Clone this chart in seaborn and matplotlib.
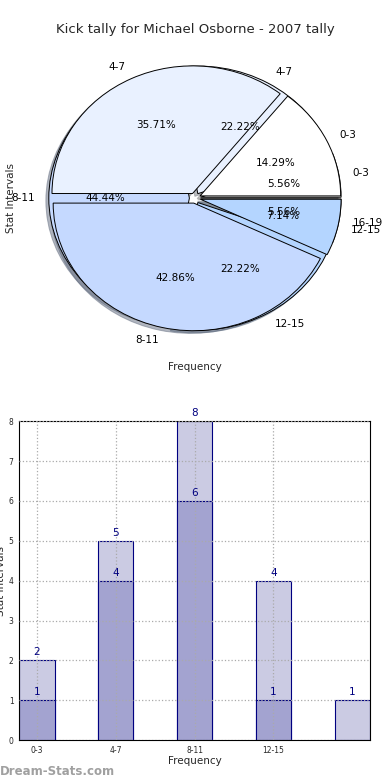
import numpy as np
import pandas as pd
import matplotlib
matplotlib.use('Agg')
import matplotlib.pyplot as plt
import seaborn as sns

sns.set_theme(style="white")
plt.rcParams['font.family'] = ['DejaVu Sans']

# --- data ---
title = 'Kick tally for Michael Osborne - 2007 tally'
pie_a_labels = ['0-3', '4-7', '8-11', '12-15', '16-19']
pie_a_values = [1, 4, 8, 4, 1]
pie_b_labels = ['0-3', '4-7', '8-11', '12-15']
pie_b_values = [2, 5, 6, 1]
pie_colors = ['#ffffff', '#e9f1ff', '#c5d9ff', '#b4d5ff', '#ffffff']

bar_cats = ['0-3', '4-7', '8-11', '12-15', '16-19']
bar_light = [2, 5, 8, 4, 1]
bar_dark = [1, 4, 6, 1, np.nan]
tick_labels = ['0-3', '4-7', '8-11', '12-15']

fig = plt.figure(figsize=(3.9, 7.8), dpi=100)
fig.suptitle(title, y=0.97, fontsize=9.5)

# -------------------------------------------------------------------------------------------
# --- pie part ---
ax1 = fig.add_axes([0.1035, 0.566, 0.793, 0.36])
shadow = {'ox': -0.015, 'oy': -0.015, 'shade': 0.5}
ax1.pie(pie_a_values, labels=pie_a_labels, colors=pie_colors, explode=[0.04] * 5,
        autopct='%.2f%%', pctdistance=0.6, labeldistance=1.1, shadow=shadow,
        wedgeprops={'edgecolor': 'black', 'linewidth': 0.7},
        textprops={'fontsize': 7.5, 'color': 'black'})
ax1.pie(pie_b_values, labels=pie_b_labels, colors=pie_colors[:4], explode=[0.04] * 4,
        autopct='%.2f%%', pctdistance=0.6, labeldistance=1.1, shadow=shadow,
        wedgeprops={'edgecolor': 'black', 'linewidth': 0.7},
        textprops={'fontsize': 7.5, 'color': 'black'})
ax1.set_aspect('auto')
ax1.set_xlim(-1.1, 1.1)
ax1.set_ylim(-1.1, 1.1)
ax1.set_axis_off()
fig.text(0.5, 0.525, 'Frequency', ha='center', fontsize=7.5)
fig.text(0.016, 0.746, 'Stat Intervals', va='center', rotation=90, fontsize=7.5)

# -------------------------------------------------------------------------------------------
# --- bar part ---
ax2 = fig.add_axes([0.049, 0.051, 0.9, 0.409])
df = pd.DataFrame({'cat': bar_cats, 'light': bar_light, 'dark': bar_dark})
sns.barplot(data=df, x='cat', y='light', order=bar_cats, color='#cbcbe3', saturation=1,
            width=0.45, edgecolor='navy', linewidth=0.8, ax=ax2)
sns.barplot(data=df, x='cat', y='dark', order=bar_cats, color='#a3a3d0', saturation=1,
            width=0.45, edgecolor='navy', linewidth=0.8, ax=ax2)

for i, v in enumerate(bar_light):
    ax2.text(i, v + 0.08, f'{v}', ha='center', va='bottom', color='navy', fontsize=7.5)
for i, v in enumerate(bar_dark):
    if not np.isnan(v):
        ax2.text(i, v + 0.08, f'{int(v)}', ha='center', va='bottom', color='navy', fontsize=7.5)

ax2.set_xlim(-0.225, 4.225)
ax2.set_ylim(0, 8)
ax2.set_xticks(range(len(tick_labels)))
ax2.set_xticklabels(tick_labels)
ax2.set_yticks(range(0, 9))
ax2.tick_params(labelsize=5.5, length=2, pad=2)
ax2.grid(True, linestyle=':', color='#aaaaaa', linewidth=0.9)
ax2.set_axisbelow(False)
for s in ax2.spines.values():
    s.set_color('black')
    s.set_linewidth(0.8)
ax2.set_xlabel('Frequency', fontsize=7.5, labelpad=1)
ax2.set_ylabel('Stat Intervals', fontsize=7.5, labelpad=2)

fig.text(0.0, 0.007, 'Dream-Stats.com', color='#a0a0a0', fontsize=8.5, fontweight='bold')

fig.savefig('out.png', dpi=100)
